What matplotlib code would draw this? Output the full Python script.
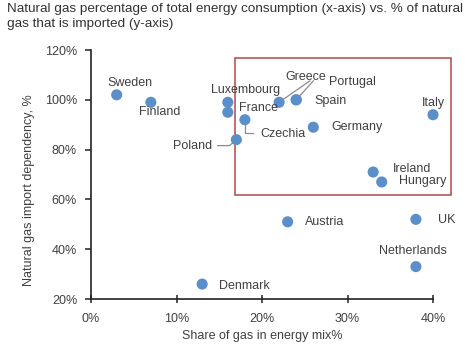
import matplotlib
matplotlib.use("Agg")
import matplotlib.pyplot as plt
from matplotlib.patches import Rectangle

plt.rcParams['font.family'] = ['Liberation Sans', 'DejaVu Sans']

# Share of gas in energy mix (%) and import dependency (%) per country
countries = ["Sweden", "Finland", "Luxembourg", "France", "Czechia", "Poland",
             "Greece", "Portugal", "Spain", "Germany", "Italy", "Ireland",
             "Hungary", "Austria", "UK", "Netherlands", "Denmark"]
gas_share = [3, 7, 16, 16, 18, 17, 22, 24, 24, 26, 40, 33, 34, 23, 38, 38, 13]
import_dep = [102, 99, 99, 95, 92, 84, 99, 100, 100, 89, 94, 71, 67, 51, 52, 33, 26]

# Label anchor positions (data units) for each country
label_x = [4.5, 8.0, 18.05, 19.6, 22.5, 11.9, 25.15, 30.6, 28.0, 31.1, 40.1,
           37.5, 38.8, 27.3, 41.6, 37.6, 17.95]
label_y = [106.8, 95.3, 104.0, 96.7, 86.4, 81.6, 109.3, 107.3, 99.6, 88.9,
           98.7, 72.4, 67.4, 50.9, 51.7, 39.1, 25.3]

x_ticks = [0, 10, 20, 30, 40]
y_ticks = [20, 40, 60, 80, 100, 120]

text_color = "#404040"
dot_color = "#5B8FC9"
box_color = "#B4474A"
leader_color = "#8C8C8C"

fig = plt.figure(figsize=(4.75, 3.48), dpi=100)
ax = fig.add_axes([0.1916, 0.1408, 0.72, 0.7155])

ax.scatter(gas_share, import_dep, s=64, color=dot_color, zorder=3,
           clip_on=False, edgecolors="none")

for name, lx, ly in zip(countries, label_x, label_y):
    ax.text(lx, ly, name, ha="center", va="center", fontsize=9,
            color=text_color, zorder=4)

# Leader lines
idx = {c: i for i, c in enumerate(countries)}
gi, pi, ci, poi = idx["Greece"], idx["Portugal"], idx["Czechia"], idx["Poland"]
ax.plot([gas_share[gi], 25.6], [import_dep[gi], 107.6], color=leader_color, lw=0.9, zorder=2)
ax.plot([gas_share[pi], 26.0], [import_dep[pi], 107.6], color=leader_color, lw=0.9, zorder=2)
ax.plot([gas_share[ci], gas_share[ci], 19.0], [import_dep[ci], 86.6, 86.6],
        color=leader_color, lw=0.9, zorder=2)
ax.plot([14.8, 16.2, gas_share[poi]], [81.6, 81.6, import_dep[poi]],
        color=leader_color, lw=0.9, zorder=2)

# Highlight box
ax.add_patch(Rectangle((16.8, 61.7), 42.1 - 16.8, 116.7 - 61.7, fill=False,
                       edgecolor=box_color, lw=1.1, clip_on=False, zorder=1))

ax.set_xlim(0, 40)
ax.set_ylim(20, 120)
ax.set_xticks(x_ticks)
ax.set_xticklabels([f"{v}%" for v in x_ticks])
ax.set_yticks(y_ticks)
ax.set_yticklabels([f"{v}%" for v in y_ticks])

for s in ["top", "right"]:
    ax.spines[s].set_visible(False)
for s in ["left", "bottom"]:
    ax.spines[s].set_color("#222222")
    ax.spines[s].set_linewidth(1.2)

ax.tick_params(axis="y", direction="out", length=4, width=1.1, pad=6,
               labelsize=9, labelcolor=text_color, color="#222222")
ax.tick_params(axis="x", direction="inout", length=6, width=1.1, pad=7,
               labelsize=9, labelcolor=text_color, color="#222222")

ax.set_xlabel("Share of gas in energy mix%", fontsize=9, color=text_color, labelpad=4)
ax.set_ylabel("Natural gas import dependency, %", fontsize=9, color=text_color)
ax.yaxis.set_label_coords(-0.164, 0.438)

fig.text(7 / 475, 1 - 3 / 348,
         "Natural gas percentage of total energy consumption (x-axis) vs. % of natural\n"
         "gas that is imported (y-axis)",
         ha="left", va="top", fontsize=9.7, color="#333333", linespacing=1.3)

fig.savefig("out.png", dpi=100)
